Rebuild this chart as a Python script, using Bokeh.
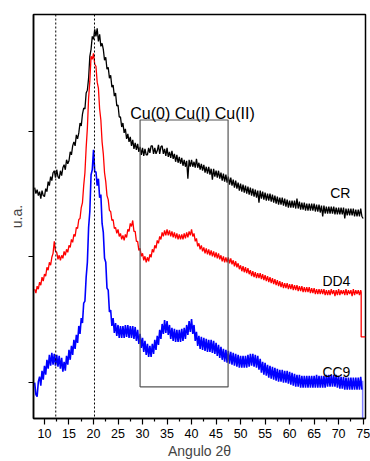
from bokeh.plotting import figure
from bokeh.models import Range1d, FixedTicker, Span, Label
from bokeh.embed import file_html
from bokeh.resources import INLINE
import numpy as np

# 2-theta measurement grid (degrees), 0.25 deg step
two_theta = np.arange(8.0, 75.001, 0.25)

# intensities (arbitrary units) (one row = 1 degree)
cr = [232, 226, 230, 224,
      228, 221, 229, 224,
      223, 231, 228, 238,
      234, 243, 239, 247,
      249, 242, 250, 243,
      241, 249, 244, 252,
      255, 250, 260, 256,
      259, 268, 265, 274,
      278, 274, 285, 281,
      287, 297, 294, 306,
      312, 311, 327, 330,
      342, 364, 371, 384,
      381, 391, 384, 392,
      379, 386, 374, 377,
      371, 360, 363, 351,
      353, 342, 345, 333,
      335, 324, 327, 314,
      315, 303, 303, 293,
      297, 287, 291, 281,
      286, 278, 283, 274,
      280, 271, 277, 270,
      276, 268, 273, 265,
      272, 264, 271, 265,
      265, 272, 267, 274,
      274, 266, 272, 266,
      269, 275, 266, 273,
      274, 266, 271, 264,
      272, 263, 268, 262,
      269, 261, 266, 258,
      265, 257, 263, 256,
      262, 254, 260, 253,
      259, 241, 260, 253,
      260, 253, 258, 252,
      261, 252, 257, 250,
      256, 249, 255, 247,
      253, 246, 253, 245,
      251, 240, 251, 243,
      249, 242, 249, 241,
      247, 239, 246, 238,
      245, 237, 243, 235,
      242, 234, 240, 232,
      239, 231, 237, 229,
      236, 228, 235, 227,
      234, 226, 233, 225,
      232, 224, 231, 223,
      230, 222, 229, 217,
      229, 221, 228, 220,
      227, 219, 226, 219,
      226, 218, 225, 217,
      224, 216, 223, 215,
      222, 215, 222, 214,
      221, 213, 220, 212,
      219, 212, 219, 212,
      219, 211, 221, 211,
      218, 210, 217, 210,
      217, 209, 216, 209,
      216, 209, 216, 209,
      216, 208, 215, 208,
      215, 207, 214, 203,
      214, 206, 213, 206,
      213, 206, 213, 206,
      213, 205, 212, 205,
      212, 205, 212, 205,
      212, 201, 211, 204,
      211, 204, 211, 204,
      211, 203, 210, 203,
      210, 203, 211, 203,
      201]

dd4 = [130, 126, 133, 130,
       137, 134, 142, 138,
       145, 143, 152, 149,
       157, 154, 162, 166,
       178, 168, 167, 160,
       164, 159, 164, 161,
       168, 164, 170, 167,
       174, 172, 180, 177,
       185, 183, 192, 191,
       200, 201, 212, 217,
       234, 247, 272, 292,
       322, 339, 364, 361,
       367, 356, 354, 338,
       332, 311, 300, 278,
       266, 247, 238, 224,
       220, 209, 208, 199,
       200, 191, 192, 186,
       190, 183, 186, 180,
       184, 179, 185, 182,
       190, 188, 196, 193,
       199, 188, 188, 178,
       178, 169, 171, 163,
       166, 159, 163, 157,
       162, 158, 165, 162,
       170, 167, 174, 171,
       179, 176, 183, 180,
       187, 183, 189, 184,
       190, 184, 189, 183,
       188, 182, 187, 181,
       186, 180, 185, 180,
       185, 180, 186, 181,
       187, 182, 188, 184,
       190, 183, 186, 178,
       181, 173, 176, 170,
       174, 168, 172, 166,
       171, 165, 170, 164,
       169, 163, 168, 162,
       167, 161, 166, 160,
       164, 158, 163, 157,
       162, 157, 162, 156,
       161, 155, 159, 153,
       158, 152, 156, 150,
       154, 148, 153, 147,
       152, 146, 151, 145,
       149, 143, 148, 142,
       147, 141, 146, 141,
       146, 140, 145, 139,
       144, 138, 143, 137,
       142, 136, 141, 135,
       140, 134, 139, 133,
       138, 132, 137, 131,
       136, 131, 136, 130,
       135, 130, 135, 129,
       134, 129, 134, 128,
       133, 128, 133, 127,
       132, 127, 132, 127,
       132, 126, 131, 126,
       131, 125, 130, 125,
       130, 125, 130, 125,
       130, 124, 129, 124,
       129, 124, 130, 125,
       129, 123, 129, 124,
       130, 124, 129, 125,
       129, 124, 130, 124,
       129, 125, 129, 123,
       130, 124, 129, 125,
       129, 124, 129]
dd4_tail_x = [74.6, 74.6, 75.5]
dd4_tail_y = [127, 82, 82]

cc9 = [36, 24, 22, 37,
       42, 33, 48, 39,
       53, 44, 59, 50,
       64, 53, 66, 54,
       65, 53, 64, 52,
       63, 50, 61, 47,
       57, 48, 63, 54,
       69, 59, 73, 64,
       79, 70, 84, 76,
       93, 85, 101, 96,
       116, 118, 142, 157,
       192, 208, 245, 250,
       270, 248, 248, 234,
       241, 222, 225, 196,
       187, 161, 157, 131,
       129, 107, 109, 93,
       101, 86, 96, 83,
       94, 81, 93, 81,
       93, 81, 94, 82,
       94, 81, 93, 81,
       93, 80, 92, 78,
       89, 75, 85, 71,
       81, 67, 78, 64,
       75, 62, 73, 62,
       75, 65, 79, 69,
       83, 74, 89, 80,
       95, 85, 99, 86,
       98, 84, 94, 80,
       91, 78, 90, 77,
       89, 77, 89, 77,
       90, 78, 91, 80,
       94, 84, 98, 87,
       100, 85, 94, 78,
       87, 73, 83, 70,
       82, 69, 81, 68,
       80, 67, 79, 67,
       79, 66, 78, 65,
       76, 63, 74, 61,
       72, 59, 70, 57,
       69, 56, 68, 55,
       67, 54, 66, 53,
       65, 52, 64, 51,
       63, 51, 63, 51,
       63, 51, 64, 52,
       65, 53, 65, 52,
       64, 51, 63, 49,
       60, 46, 57, 44,
       56, 43, 54, 41,
       53, 40, 52, 39,
       51, 38, 50, 37,
       49, 37, 49, 36,
       48, 36, 48, 35,
       47, 34, 46, 33,
       45, 32, 44, 32,
       44, 31, 43, 31,
       43, 31, 43, 31,
       43, 31, 43, 31,
       43, 31, 44, 31,
       43, 31, 43, 31,
       43, 31, 44, 32,
       44, 32, 44, 32,
       44, 32, 44, 31,
       43, 30, 42, 30,
       42, 29, 41, 29,
       41, 29, 41, 29,
       41, 29, 41, 29,
       41, 29, 42, 29]
cc9_tail_x = [74.9, 74.9]
cc9_tail_y = [38, 0]

series_labels = ["CR", "DD4", "CC9"]
label_x = [72.4, 72.4, 72.4]
label_y = [226.7, 138.3, 47]

ref_lines = [12.3, 20.2]
box_x = [29.5, 47.45]
box_y = [31.7, 300]
cu_text = "Cu(0) Cu(I) Cu(II)"
cu_pos = (40.2, 306.7)

y_ticks = [35.7, 162.3, 288.3]
x_ticks = [10, 15, 20, 25, 30, 35, 40, 45, 50, 55, 60, 65, 70, 75]

FONT = "Liberation Sans"

p = figure(width=370, height=461, x_range=Range1d(7.76, 75.48), y_range=Range1d(0, 406),
           output_backend="svg", toolbar_location=None,
           min_border_left=33, min_border_right=5, min_border_top=14, min_border_bottom=41)
p.xgrid.visible = False
p.ygrid.visible = False
p.outline_line_color = "black"
p.outline_line_width = 1.5
p.background_fill_color = "white"
p.border_fill_color = "white"

grid = list(two_theta)
# curves
p.line(grid[:len(cr)], cr[:len(grid)], line_color="black", line_width=1.3)
p.line(grid[:len(dd4)] + dd4_tail_x, dd4[:len(grid)] + dd4_tail_y, line_color="#ff0000", line_width=1.3)
p.line(grid[:len(cc9)], cc9[:len(grid)], line_color="#0000ff", line_width=1.6)
p.line(cc9_tail_x, cc9_tail_y, line_color="#0000ff", line_alpha=0.5, line_width=1.5)

for xv in ref_lines:
    p.add_layout(Span(location=xv, dimension="height", line_color="black",
                      line_width=1, line_dash="2 2"))

p.line([box_x[0], box_x[1], box_x[1], box_x[0], box_x[0]],
       [box_y[0], box_y[0], box_y[1], box_y[1], box_y[0]],
       line_color="#555555", line_width=1.2)

p.add_layout(Label(x=cu_pos[0], y=cu_pos[1], text=cu_text, text_align="center",
                   text_baseline="alphabetic", text_font=FONT, text_font_size="16px",
                   text_color="black"))
for t, xv, yv in zip(series_labels, label_x, label_y):
    p.add_layout(Label(x=xv, y=yv, text=t, text_align="right", text_baseline="alphabetic",
                       text_font=FONT, text_font_size="14px", text_color="black"))

# x axis
xa = p.xaxis[0]
xa.ticker = FixedTicker(ticks=x_ticks, minor_ticks=[t + 2.5 for t in x_ticks] + [7.5])
xa.major_tick_out = 6
xa.major_tick_in = 0
xa.minor_tick_out = 3
xa.minor_tick_in = 0
xa.axis_line_width = 1.5
xa.major_tick_line_width = 1.2
xa.minor_tick_line_width = 1.2
xa.major_label_text_font = FONT
xa.major_label_text_font_size = "12.5px"
xa.major_label_text_color = "black"
xa.major_label_standoff = 4
xa.axis_label = "Angulo 2θ"
xa.axis_label_text_font = FONT
xa.axis_label_text_font_size = "14px"
xa.axis_label_text_font_style = "normal"
xa.axis_label_standoff = 2

# y axis (ticks only, no tick labels)
ya = p.yaxis[0]
ya.ticker = FixedTicker(ticks=y_ticks, minor_ticks=[])
ya.major_tick_out = 5
ya.major_tick_in = 0
ya.axis_line_width = 1.5
ya.major_tick_line_width = 1.2
ya.major_label_text_font_size = "0px"
ya.major_label_text_color = None
ya.major_label_standoff = 0
ya.axis_label = "u.a."
ya.axis_label_text_font = FONT
ya.axis_label_text_font_size = "14px"
ya.axis_label_text_font_style = "normal"
ya.axis_label_standoff = 4

open("out.html", "w").write(file_html(p, INLINE))
